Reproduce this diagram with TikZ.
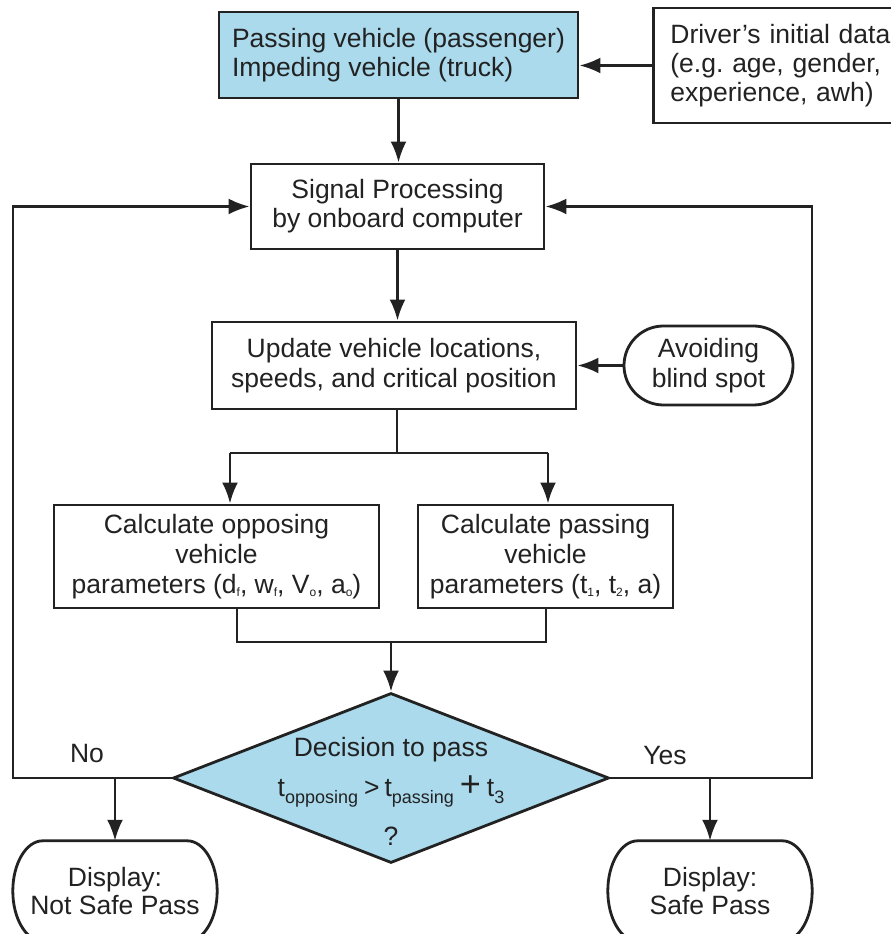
\documentclass[tikz,border=0pt]{standalone}
\usepackage{fontspec}
\setmainfont{Liberation Sans}
\usetikzlibrary{arrows.meta,shapes.geometric,shapes.misc}
\definecolor{lblue}{RGB}{170,218,236}
\definecolor{ink}{RGB}{34,34,34}
\newcommand{\mysub}[1]{\raisebox{-3pt}{\fontsize{12}{12}\selectfont #1}}
\newcommand{\mybigsub}[1]{\raisebox{-7pt}{\fontsize{18}{18}\selectfont #1}}
\frenchspacing
\begin{document}
\begin{tikzpicture}[x=1pt,y=1pt,
  box/.style={draw=ink, line width=2.8pt, rectangle, inner sep=0pt, align=center,
    font=\fontsize{26.5}{30}\selectfont, text=ink},
  lbl/.style={inner sep=0pt, font=\fontsize{26.5}{30}\selectfont, text=ink, align=center},
  ln/.style={draw=ink, line width=2.8pt},
  arr/.style={draw=ink, line width=2.8pt, -{Latex[length=21pt,width=16pt]}},
  termshape/.style={inner sep=0pt, align=center, font=\fontsize{26.5}{28}\selectfont, text=ink,
    minimum width=204pt, minimum height=100pt}
]
\useasboundingbox[fill=white] (0,0) rectangle (891,934);

% nodes
\node[box, fill=lblue, minimum width=359pt, minimum height=86pt, align=left,
  font=\fontsize{26.5}{29}\selectfont] (veh) at (398.5,879)
  {Passing vehicle (passenger)\\Impeding vehicle (truck)};
\node[box, anchor=west, minimum height=115pt, text width=235pt, inner xsep=17pt, align=left,
  font=\fontsize{26.5}{29}\selectfont] (drv) at (652,868.5)
  {Driver’s initial data\\(e.g.\ age, gender,\\experience, awh)};
\node[box, minimum width=293pt, minimum height=85pt, font=\fontsize{26.5}{29}\selectfont] (sig) at (397.5,727.5)
  {Signal Processing\\by onboard computer};
\node[box, minimum width=364pt, minimum height=87pt] (upd) at (394,568.5)
  {Update vehicle locations,\\speeds, and critical position};
\node[box, rounded rectangle, minimum width=169pt, minimum height=79pt] (avd) at (708.5,568.5)
  {Avoiding\\blind spot};
\node[box, minimum width=325pt, minimum height=103pt] (calL) at (216.5,377.5)
  {Calculate opposing\\vehicle\\parameters (d\mysub{f}, w\mysub{f}, V\mysub{o}, a\mysub{o})};
\node[box, minimum width=255pt, minimum height=103pt] (calR) at (545.5,377.5)
  {Calculate passing\\vehicle\\parameters (t\mysub{1}, t\mysub{2}, a)};
\node[draw=ink, line width=2.8pt, fill=lblue, diamond, minimum width=436pt, minimum height=170pt,
  inner sep=0pt] (dec) at (391,156) {};
\node[lbl] (d1) at (391,184) {Decision to pass};
\node[lbl] (d2) at (391,143) {t\mybigsub{opposing}\kern6pt>\kern5pt t\mybigsub{passing}\kern6pt{\fontsize{36}{36}\selectfont +}\kern6pt t\mybigsub{3}};
\node[lbl] (d3) at (391,98) {?};

\node[termshape] (tL) at (115,43) {Display:\\Not Safe Pass};
\node[termshape] (tR) at (710,43) {Display:\\Safe Pass};
\foreach \t in {tL,tR}{
  \draw[ln] ([xshift=30pt]\t.north west) -- ([xshift=-30pt]\t.north east)
    .. controls +(16.6,0) and +(0,27.6) .. (\t.east)
    .. controls +(0,-27.6) and +(16.6,0) .. ([xshift=-30pt]\t.south east)
    -- ([xshift=30pt]\t.south west)
    .. controls +(-16.6,0) and +(0,-27.6) .. (\t.west)
    .. controls +(0,27.6) and +(-16.6,0) .. cycle;
}

\node[lbl] (no) at (87,180) {No};
\node[lbl] (yes) at (665,178) {Yes};

% coordinates
\coordinate (LL) at (13,156);
\coordinate (RR) at (812,156);
\coordinate (S) at (397,481);
\coordinate (aL) at (230,481);
\coordinate (aR) at (548,481);
\coordinate (jL) at (237,292);
\coordinate (jR) at (546,292);
\coordinate (J) at (391,292);

% connectors
\draw[arr] (drv.west) -- (drv.west -| veh.east);
\draw[arr] (veh.south) -- (veh.south |- sig.north);
\draw[arr] (dec.west) -- (LL) |- (sig.west);
\draw[arr] (dec.east) -- (RR) |- (sig.east);
\draw[arr] (sig.south) -- (sig.south |- upd.north);
\draw[arr] (avd.west) -- (avd.west -| upd.east);
\draw[ln] (S |- upd.south) -- (S);
\draw[ln] (aL) -- (aR);
\draw[arr] (aL) -- (aL |- calL.north);
\draw[arr] (aR) -- (aR |- calR.north);
\draw[ln] (jL |- calL.south) -- (jL) -- (jR) -- (jR |- calR.south);
\draw[arr] (J) -- (dec.north);
\draw[arr] (tL.north |- dec.west) -- (tL.north);
\draw[arr] (tR.north |- dec.east) -- (tR.north);
\end{tikzpicture}
\end{document}
